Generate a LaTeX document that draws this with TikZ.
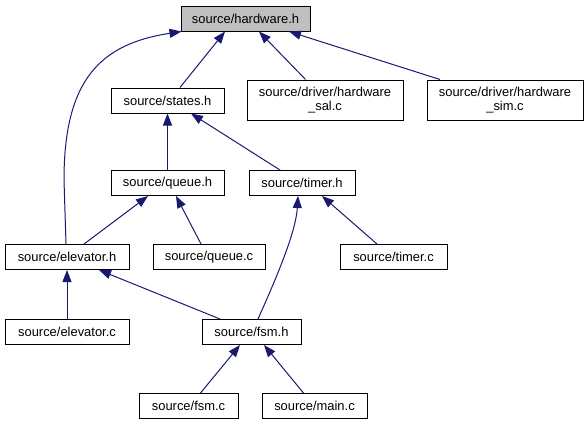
\documentclass[tikz,border=0pt]{standalone}
\usepackage{fontspec}
\setmainfont{Liberation Sans}
\usepackage{tikz}
\usetikzlibrary{arrows.meta}

\definecolor{edgeblue}{HTML}{191970}
\definecolor{rootgrey}{HTML}{BFBFBF}

\begin{document}
\begin{tikzpicture}[
  x=0.75pt, y=-0.75pt,
  font=\fontsize{9.7}{10.5}\selectfont,
  filebox/.style={draw=black, line width=0.75pt, fill=white, inner sep=0pt,
    minimum height=18.75pt, align=center},
  rootbox/.style={filebox, fill=rootgrey},
  tallbox/.style={filebox, minimum height=30pt},
  wd/.style={minimum width=#1*0.75pt},
  dep/.style={draw=edgeblue, line width=0.75pt,
    -{Triangle[length=9pt, width=6.75pt]}}
]
\useasboundingbox (0,0) rectangle (585,425);

% ============ FILES ============
\node[rootbox, wd=129] (hw)     at (245.5,18.5) {source/hardware.h};
\node[filebox, wd=113] (states) at (167.5,100.5) {source/states.h};
\node[tallbox, wd=156] (sal)    at (325,100) {source/driver/hardware\\\_sal.c};
\node[tallbox, wd=156] (sim)    at (505,100) {source/driver/hardware\\\_sim.c};
\node[filebox, wd=113] (queueh) at (167.5,183) {source/queue.h};
\node[filebox, wd=106] (timerh) at (302,183) {source/timer.h};
\node[filebox, wd=124] (elevh)  at (67,257) {source/elevator.h};
\node[filebox, wd=112] (queuec) at (209,257) {source/queue.c};
\node[filebox, wd=107] (timerc) at (393.5,257) {source/timer.c};
\node[filebox, wd=124] (elevc)  at (67,332) {source/elevator.c};
\node[filebox, wd=99]  (fsmh)   at (251.5,332) {source/fsm.h};
\node[filebox, wd=99]  (fsmc)   at (188.5,406) {source/fsm.c};
\node[filebox, wd=105] (mainc)  at (314.5,406) {source/main.c};

% ============ INCLUDES ============
\draw[dep] ([shift={(12.5,0)}]states.north) -- ([shift={(-20.5,0)}]hw.south);
\draw[dep] ([shift={(-19.5,0)}]sal.north) -- ([shift={(13.5,0)}]hw.south);
\draw[dep] ([shift={(-65,0)}]sim.north) -- ([shift={(43.5,0)}]hw.south);
\draw[dep] ([shift={(-1,0)}]elevh.north) -- (64,180)
   .. controls (64,80) and (100,44) .. ([shift={(1,0)}]hw.south west);
\draw[dep] (queueh.north) -- (states.south);
\draw[dep] ([shift={(-22,0)}]timerh.north) -- ([shift={(23.5,0)}]states.south);
\draw[dep] ([shift={(17,0)}]elevh.north) -- ([shift={(-19.5,0)}]queueh.south);
\draw[dep] ([shift={(-8,0)}]queuec.north) -- ([shift={(8.5,0)}]queueh.south);
\draw[dep] ([shift={(6.5,0)}]fsmh.north)
   .. controls (280,270) and (296,230) .. ([shift={(-4,0)}]timerh.south);
\draw[dep] ([shift={(-16.5,0)}]timerc.north) -- ([shift={(20,0)}]timerh.south);
\draw[dep] (elevc.north) -- (elevh.south);
\draw[dep] ([shift={(-31.5,0)}]fsmh.north) -- ([shift={(32,0)}]elevh.south);
\draw[dep] ([shift={(12,0)}]fsmc.north) -- ([shift={(-11.5,0)}]fsmh.south);
\draw[dep] ([shift={(-11,0)}]mainc.north) -- ([shift={(12.5,0)}]fsmh.south);

\end{tikzpicture}
\end{document}
